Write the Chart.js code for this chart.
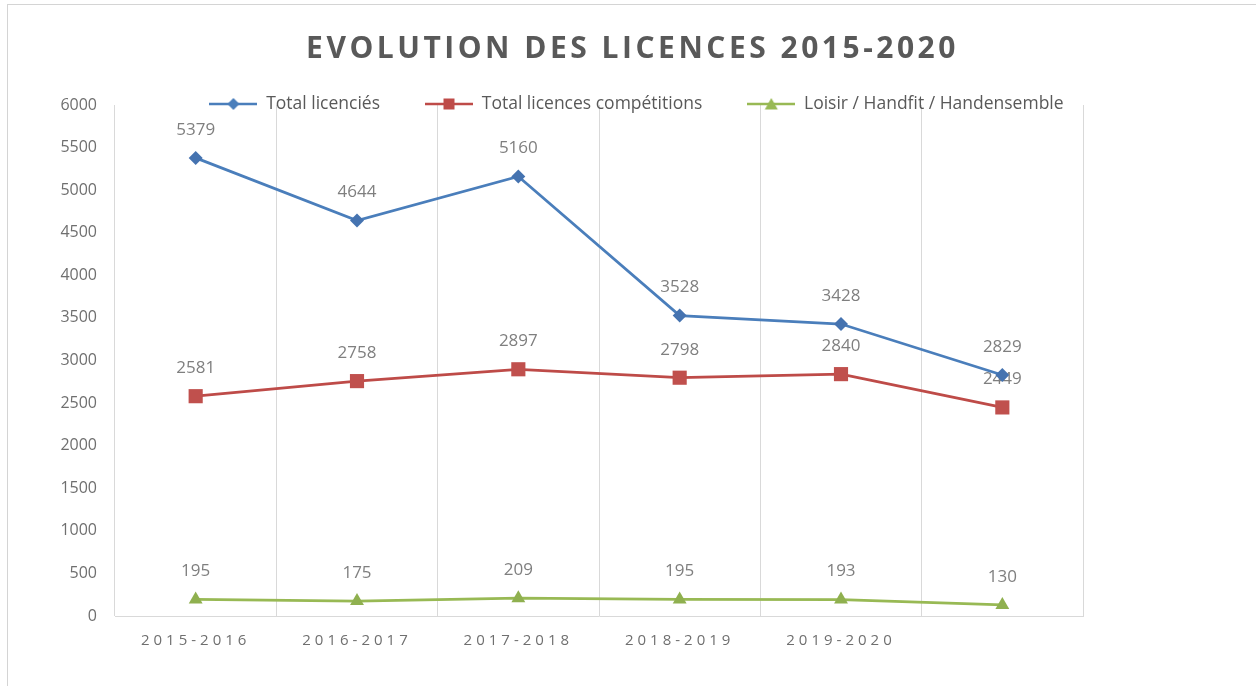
<!DOCTYPE html>
<html>
<head>
<meta charset="utf-8">
<script src="https://cdn.jsdelivr.net/npm/chart.js@4.4.1/dist/chart.umd.min.js"></script>
<style>
    html, body { margin: 0; padding: 0; background: #fff; }
    #wrap { position: relative; width: 1256px; height: 686px; overflow: hidden; }
    #cadre { position: absolute; left: 7px; top: 4px; width: 1270px; height: 700px; border: 1px solid #d4d4d4; pointer-events: none; }
    canvas { position: absolute; left: 0; top: 0; }
</style>
</head>
<body>
<div id="wrap">
    <canvas id="licencesChart" width="1256" height="686"></canvas>
    <div id="cadre"></div>
</div>
<script>
// Données
const saisons = ['2015-2016', '2016-2017', '2017-2018', '2018-2019', '2019-2020', ''];
const totalLicencies = [5379, 4644, 5160, 3528, 3428, 2829];
const totalCompetitions = [2581, 2758, 2897, 2798, 2840, 2449];
const loisirHandfit = [195, 175, 209, 195, 193, 130];
const nomsSeries = ['Total licenciés', 'Total licences compétitions', 'Loisir / Handfit / Handensemble'];
const graduationsY = [0, 6000, 500];

const BLEU = '#4a7ebb';
const ROUGE = '#be4b48';
const VERT = '#98b954';
const GRIS = '#595959';
const POLICE = '"Open Sans", "Liberation Sans", sans-serif';
const TAILLE_LEGENDE = 17.5;

// petite icone trait + marqueur pour la légende
function icone(couleur, forme) {
    const c = document.createElement('canvas');
    c.width = 48;
    c.height = 16;
    const g = c.getContext('2d');
    g.strokeStyle = couleur;
    g.lineWidth = 2.5;
    g.beginPath();
    g.moveTo(0, 8);
    g.lineTo(48, 8);
    g.stroke();
    g.fillStyle = couleur;
    g.beginPath();
    if (forme === 'losange') {
        g.moveTo(24, 2); g.lineTo(30, 8); g.lineTo(24, 14); g.lineTo(18, 8);
    } else if (forme === 'carre') {
        g.rect(18.5, 2.5, 11, 11);
    } else {
        g.moveTo(24, 2); g.lineTo(30.5, 13.5); g.lineTo(17.5, 13.5);
    }
    g.closePath();
    g.fill();
    return c;
}

const iconesLegende = [icone(BLEU, 'losange'), icone(ROUGE, 'carre'), icone(VERT, 'triangle')];

// étiquettes de valeur au-dessus des points
const etiquettes = {
    id: 'etiquettes',
    beforeDatasetsDraw(chart) {
        const ctx = chart.ctx;
        ctx.save();
        ctx.font = '17px ' + POLICE;
        ctx.fillStyle = '#7f7f7f';
        ctx.textAlign = 'center';
        ctx.textBaseline = 'middle';
        chart.data.datasets.forEach((ds, i) => {
            chart.getDatasetMeta(i).data.forEach((pt, j) => {
                ctx.fillText(String(ds.data[j]), pt.x, pt.y - 28);
            });
        });
        ctx.restore();
    }
};

// espacement des lettres (titre, axe X) et position du titre / de la légende
const miseEnPage = {
    id: 'miseEnPage',
    beforeLayout(chart) {
        const lg = chart.legend;
        if (lg && !lg.$fitPatch) {
            lg.$fitPatch = true;
            const fit = lg.fit;
            lg.fit = function () {
                fit.call(this);
                this.height = 0;
            };
        }
    },
    afterLayout(chart) {
        const lg = chart.legend;
        const pad = lg.options.labels.padding;
        lg.top = 104 - pad - TAILLE_LEGENDE / 2;
        lg.bottom = lg.top + 2 * pad + 24;
        lg.height = lg.bottom - lg.top;
        lg.left += 66;
        lg.right += 66;
        const t = chart.titleBlock;
        t.left += 62;
        t.right += 62;
    },
    beforeDraw(chart) {
        if (chart.$espace) return;
        chart.$espace = true;
        const espacer = (obj, nom, val) => {
            const orig = obj[nom];
            obj[nom] = function (...args) {
                const ctx = chart.ctx;
                ctx.save();
                ctx.letterSpacing = val;
                orig.apply(this, args);
                ctx.restore();
            };
        };
        espacer(chart.titleBlock, 'draw', '3.5px');
        espacer(chart.scales.x, 'drawLabels', '4px');
    }
};

const ctx = document.getElementById('licencesChart').getContext('2d');

new Chart(ctx, {
    type: 'line',
    data: {
        labels: saisons,
        datasets: [
            {
                label: nomsSeries[0],
                data: totalLicencies,
                borderColor: BLEU,
                backgroundColor: '#4573b0',
                borderWidth: 2.75,
                pointStyle: 'rectRot',
                pointRadius: 7,
                pointBorderWidth: 0
            },
            {
                label: nomsSeries[1],
                data: totalCompetitions,
                borderColor: ROUGE,
                backgroundColor: '#c0504d',
                borderWidth: 2.75,
                pointStyle: 'rect',
                pointRadius: 10,
                pointBorderWidth: 0
            },
            {
                label: nomsSeries[2],
                data: loisirHandfit,
                borderColor: VERT,
                backgroundColor: '#8fb04f',
                borderWidth: 2.75,
                pointStyle: 'triangle',
                pointRadius: 8,
                pointBorderWidth: 0
            }
        ]
    },
    options: {
        responsive: false,
        animation: false,
        layout: {
            padding: { left: 58, right: 173, top: 0, bottom: 28 }
        },
        plugins: {
            title: {
                display: true,
                text: 'EVOLUTION DES LICENCES 2015-2020',
                color: GRIS,
                font: { family: POLICE, size: 30, weight: 'bold' },
                padding: { top: 31, bottom: 38 }
            },
            legend: {
                position: 'top',
                labels: {
                    color: GRIS,
                    font: { family: POLICE, size: TAILLE_LEGENDE },
                    usePointStyle: true,
                    pointStyleWidth: 48,
                    padding: 45,
                    generateLabels(chart) {
                        const items = Chart.defaults.plugins.legend.labels.generateLabels(chart);
                        items.forEach((it, i) => { it.pointStyle = iconesLegende[i]; });
                        return items;
                    }
                }
            },
            tooltip: { enabled: false }
        },
        scales: {
            x: {
                offset: true,
                grid: { display: true, offset: true, color: '#d9d9d9', drawTicks: false },
                border: { display: true, color: '#d9d9d9' },
                ticks: {
                    color: '#6f6f6f',
                    font: { family: POLICE, size: 15 },
                    padding: 16,
                    maxRotation: 0,
                    autoSkip: false
                },
                afterFit(scale) { scale.height = 42; }
            },
            y: {
                min: graduationsY[0],
                max: graduationsY[1],
                grid: { display: false, drawTicks: false },
                border: { display: false },
                ticks: {
                    stepSize: graduationsY[2],
                    color: '#6f6f6f',
                    font: { family: POLICE, size: 16 },
                    padding: 18,
                    callback: (v) => String(v)
                },
                afterFit(scale) { scale.width = 57; }
            }
        }
    },
    plugins: [etiquettes, miseEnPage]
});
</script>
</body>
</html>
